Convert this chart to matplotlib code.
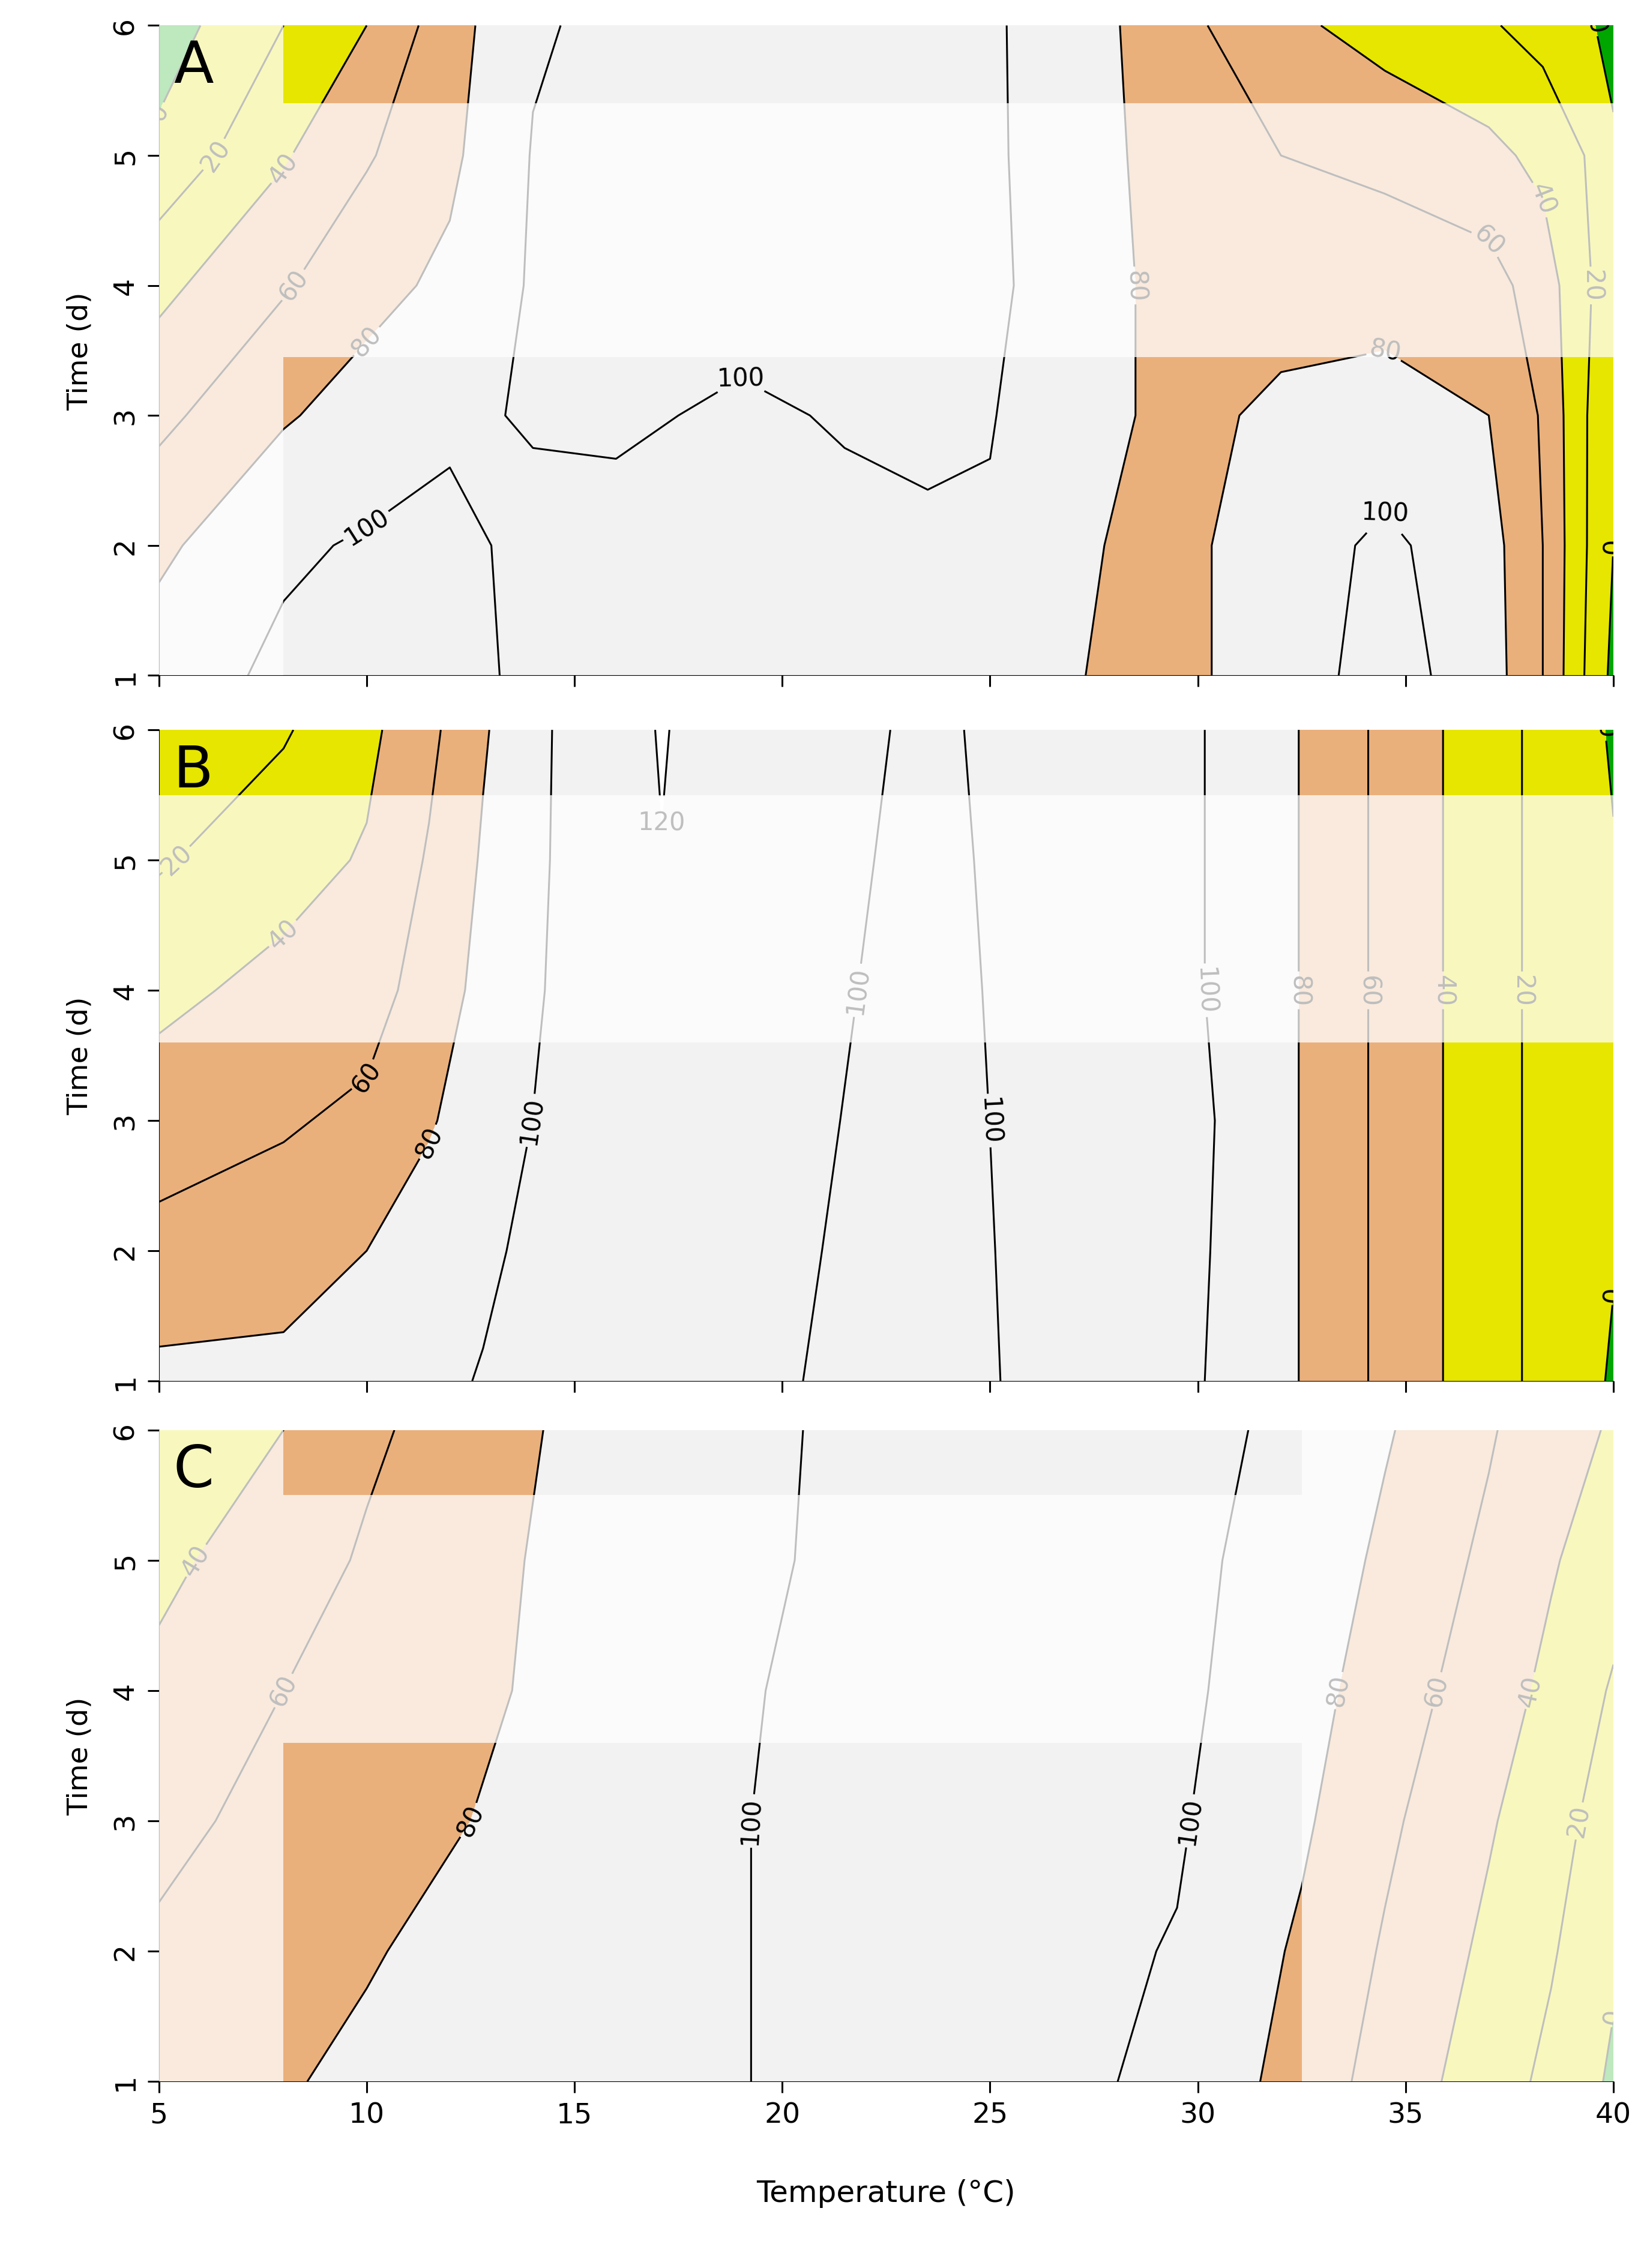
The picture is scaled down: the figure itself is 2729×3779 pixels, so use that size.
import numpy as np
import matplotlib
matplotlib.use("Agg")
import matplotlib.pyplot as plt
from matplotlib.patches import Rectangle

times = [1, 2, 3, 4, 5, 6]

# Panel A: temperature nodes and values (rows = time 1..6)
temps_a = [5, 8, 10, 12, 14, 16, 19, 21.5, 23.5, 25, 27, 28.5, 30, 32, 34.5, 37, 38.3, 39.3, 40]
z_a_t1 = [90, 104, 108, 106, 96, 95, 94, 95, 95, 96, 82, 72, 78, 90, 108, 90, 60, 20, -5]
z_a_t2 = [76, 97, 102, 103, 97, 96, 95, 97, 97, 98, 85, 75, 78, 90, 104, 88, 60, 22, 0]
z_a_t3 = [55, 78, 88, 98, 101, 102, 98, 101, 104, 101, 88, 80, 76, 84, 88, 80, 58, 22, 2]
z_a_t4 = [35, 58, 74, 84, 102, 106, 105, 106, 106, 102, 95, 80, 72, 72, 72, 68, 50, 25, 5]
z_a_t5 = [5, 38, 58, 76, 101, 106, 107, 106, 106, 102, 93, 78, 65, 60, 55, 45, 35, 20, 5]
z_a_t6 = [-10, 20, 40, 72, 98, 104, 107, 106, 106, 102, 92, 76, 62, 45, 32, 22, 13, 6, -10]

# Panel B
temps_b = [5, 8, 10, 11.5, 12.8, 14.5, 16.5, 17.1, 17.8, 19, 23.5, 27, 30, 31.5, 33.2, 35, 36.8, 38.8, 40]
z_b_t1 = [85, 86, 92, 96, 101, 107, 106, 108, 106, 101.5, 97, 103, 101, 92, 70, 50, 30, 10, -2]
z_b_t2 = [66, 70, 80, 90, 97, 106, 106, 110, 106, 102, 97.4, 103, 102, 92, 70, 50, 30, 10, 1]
z_b_t3 = [50, 58, 64, 78, 91, 104, 106, 112, 106, 102.5, 97.8, 103, 103, 92, 70, 50, 30, 10, 1]
z_b_t4 = [35, 46, 52, 68, 86, 102, 106, 115, 106, 103, 98.2, 103, 101, 92, 70, 50, 30, 10, 1]
z_b_t5 = [18, 32, 42, 62, 82, 101, 106, 118, 106, 103.5, 98.6, 103, 101, 92, 70, 50, 30, 10, 1]
z_b_t6 = [5, 18, 35, 55, 78, 100.5, 106, 125, 106, 104, 99, 103, 101, 92, 70, 50, 30, 10, -2]

# Panel C
temps_c = [5, 8, 10, 12, 13.5, 15, 17.5, 21, 26, 27, 29.5, 32.5, 34.5, 37, 38.5, 40]
z_c_t1 = [70, 78, 85, 92, 96, 95, 98, 102, 104, 103, 96, 72, 52, 30, 15, -3]
z_c_t2 = [63, 72, 78, 86, 92, 94, 98, 102, 104, 104, 99, 77, 58, 36, 22, 3]
z_c_t3 = [55, 66, 72, 78, 84, 92, 98, 102, 104, 104, 102, 83, 64, 42, 28, 10]
z_c_t4 = [45, 60, 66, 74, 80, 90, 97, 102, 104, 104, 104, 88, 70, 50, 35, 18]
z_c_t5 = [35, 52, 62, 70, 78, 88, 96, 101, 104, 104, 104, 93, 76, 56, 42, 28]
z_c_t6 = [24, 40, 57, 66, 74, 86, 94, 101, 104, 104, 104, 97, 82, 62, 48, 38]

fill_levels = [-100, 0, 40, 80, 120, 300]
fill_colors = ["#00A600", "#E6E600", "#EAB07C", "#F2F2F2", "#FFFFFF"]
line_levels = [0, 20, 40, 60, 80, 100, 120]

panels = [
    ("A", temps_a, [z_a_t1, z_a_t2, z_a_t3, z_a_t4, z_a_t5, z_a_t6],
     [(5, 1, 3, 5), (8, 3.45, 32, 1.95)]),
    ("B", temps_b, [z_b_t1, z_b_t2, z_b_t3, z_b_t4, z_b_t5, z_b_t6],
     [(5, 3.6, 35, 1.9)]),
    ("C", temps_c, [z_c_t1, z_c_t2, z_c_t3, z_c_t4, z_c_t5, z_c_t6],
     [(5, 1, 3, 5), (32.5, 1, 7.5, 5), (8, 3.6, 24.5, 1.9)]),
]
bounds = [(0.702, 0.9885), (0.391, 0.678), (0.0822, 0.3694)]

fig = plt.figure(figsize=(27.29, 37.8), dpi=100)
for (letter, tx, rows, fades), (b, t) in zip(panels, bounds):
    ax = fig.add_axes([0.097, b, 0.888, t - b])
    Z = np.array(rows)
    ax.contourf(tx, times, Z, levels=fill_levels, colors=fill_colors)
    cs = ax.contour(tx, times, Z, levels=line_levels, colors="black", linewidths=2.2)
    ax.clabel(cs, fmt="%d", fontsize=30, inline=True)
    for (x0, y0, w, h) in fades:
        ax.add_patch(Rectangle((x0, y0), w, h, facecolor="white", alpha=0.75,
                               edgecolor="none", zorder=5))
    ax.set_xlim(5, 40)
    ax.set_ylim(1, 6)
    ax.set_xticks([5, 10, 15, 20, 25, 30, 35, 40])
    ax.set_yticks([1, 2, 3, 4, 5, 6])
    for s in ["top", "right"]:
        ax.spines[s].set_visible(False)
    ax.tick_params(labelsize=34, length=14, width=2.2, pad=10)
    ax.set_yticklabels([str(v) for v in times], rotation=90, va="center")
    ax.set_ylabel("Time (d)", fontsize=34, labelpad=22)
    if letter != "C":
        ax.set_xticklabels([])
    else:
        ax.set_xlabel("Temperature (°C)", fontsize=36, labelpad=60)
    ax.text(5.35, 5.9, letter, fontsize=70, va="top", ha="left", zorder=6)

fig.savefig("out.png", dpi=100)
